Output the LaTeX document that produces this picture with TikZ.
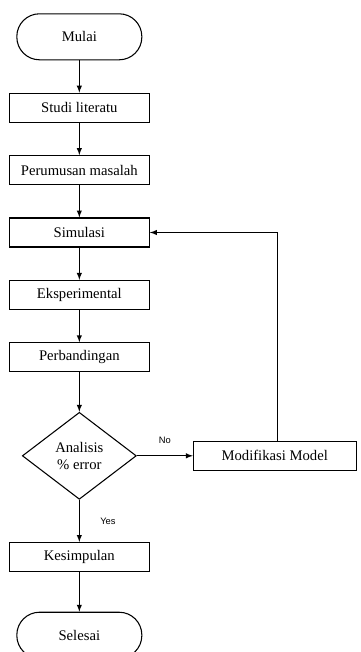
\documentclass[tikz,border=0pt]{standalone}
\usepackage{fontspec}
\setmainfont{Liberation Serif}
\newfontfamily\labelfont{Liberation Sans}
\usetikzlibrary{arrows,shapes.geometric}

\begin{document}
\begin{tikzpicture}[auto, font=\fontsize{11}{13}\selectfont]
\tikzstyle{decision} = [diamond, draw, thick, align=center, aspect=1.31,
minimum width=85.5pt, minimum height=65.25pt, inner sep=0pt]

\tikzstyle{block} = [rectangle, draw, thick,
minimum width=105pt, minimum height=21.75pt, inner sep=0pt]
\tikzstyle{cloud} = [rectangle, draw, thick, rounded corners=17pt,
minimum width=93.75pt, minimum height=34.5pt];
\tikzstyle{line} = [draw, thick, -latex];
\tikzstyle{tag} = [font=\labelfont\fontsize{7}{8}\selectfont];
\useasboundingbox (0,0) rectangle (270pt,-489pt);
\matrix [column sep=32.25pt, row sep=24.25pt, inner sep=0pt,
matrix anchor=north west] at (6.4pt,-9.75pt)
{
% row 1
\node [cloud] (start) {Mulai}; & \\
\node [block] (studi) {Studi literatu}; & \\
\node [block] (rumusan) {Perumusan masalah}; & \\
\node [block] (simulasi) {Simulasi}; & \\
\node [block] (eksperimen) {Eksperimental}; & \\
\node [block] (banding) {Perbandingan}; & \\[5.5pt]

\node [decision] (analisis) {Analisis\\\% error}; &
\node [block, minimum width=122pt] (modif) {Modifikasi Model}; \\[7.5pt]
\node [block] (simpul) {Kesimpulan}; & \\[5.5pt]
\node [cloud] (stop) {Selesai}; & \\
};
\tikzstyle{every path}=[line]
\path (start) -- (studi);
\path (studi) -- (rumusan);
\path (rumusan) -- (simulasi);
\path (simulasi) -- (eksperimen);
\path (eksperimen) -- (banding);
\path (banding) -- (analisis);
\path (analisis) -- node [tag, midway, above=5.5pt]{No} (modif);
\path (analisis) -- node [tag, midway, right=12pt]{Yes} (simpul);
\path (simpul) -- (stop);
\path ([xshift=2pt]modif.north) |- (simulasi.east);
\end{tikzpicture}
\end{document}
